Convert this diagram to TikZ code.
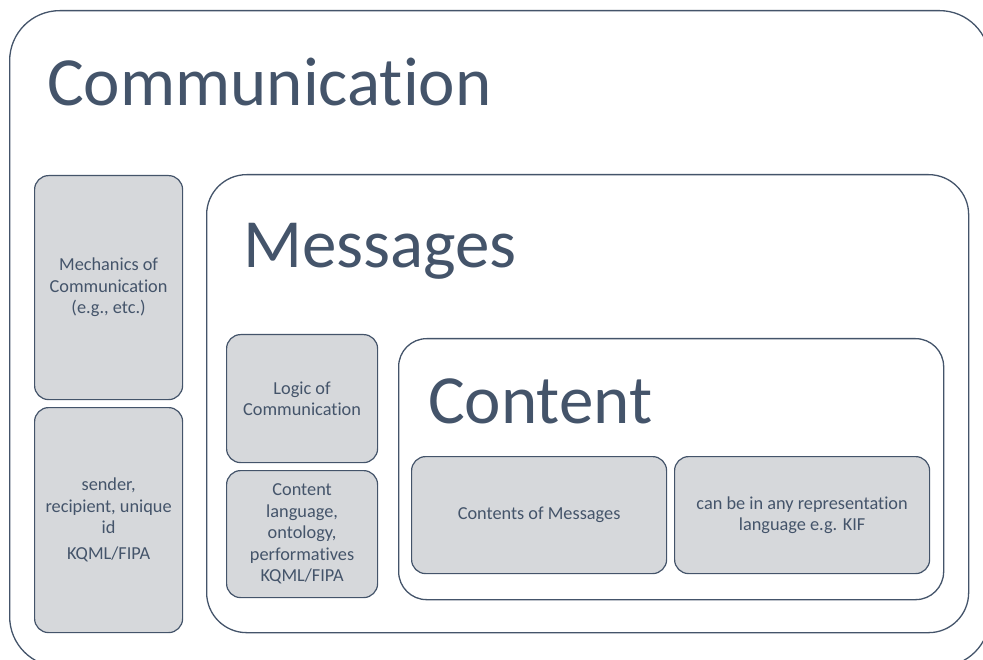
\documentclass[tikz,border=0pt]{standalone}
\usepackage{fontspec}
\setmainfont{Carlito}[Ligatures={NoCommon}]
\definecolor{slate}{HTML}{44546A}
\definecolor{boxgray}{RGB}{214,216,219}
\begin{document}
\begin{tikzpicture}[x=1pt,y=-1pt,
  container/.style={draw=slate, line width=1.3pt, fill=white, anchor=north west, inner sep=0pt},
  graybox/.style={draw=slate, line width=1.2pt, fill=boxgray, rounded corners=14pt, anchor=north west,
    inner sep=0pt, align=center, text=slate, font=\fontsize{18.3}{21.5}\selectfont},
  title/.style={anchor=base west, text=slate, inner sep=0pt, font=\fontsize{69}{80}\selectfont}]
\useasboundingbox (0,0) rectangle (983,660);
\clip (0,0) rectangle (983,660);
% outer container
\node[container, rounded corners=50pt, minimum width=980pt, minimum height=656pt] (comm) at (9,10) {};
\node[title] (commt) at (47,106) {Communication};
\node[graybox, minimum width=148pt, minimum height=224pt] (mech) at (34,175) {Mechanics of\\Communication\\(e.g., etc.)};
\node[graybox, minimum width=148pt, minimum height=225pt] (send) at (34,407) {sender,\\recipient, unique\\id\\[4pt]KQML/FIPA};
% messages container
\node[container, rounded corners=40pt, minimum width=762pt, minimum height=458pt] (msg) at (206,174) {};
\node[title] (msgt) at (243,268) {Messages};
\node[graybox, minimum width=151pt, minimum height=128pt] (logic) at (226,334) {Logic of\\Communication};
\node[graybox, minimum width=151pt, minimum height=127pt] (lang) at (226,470) {Content\\language,\\ontology,\\performatives\\KQML/FIPA};
% content container
\node[container, rounded corners=28pt, minimum width=545pt, minimum height=261pt] (cont) at (398,338) {};
\node[title] (contt) at (428,424) {Content};
\node[graybox, minimum width=255pt, minimum height=117pt] (com) at (411,456) {Contents of Messages};
\node[graybox, minimum width=255pt, minimum height=117pt] (any) at (674,456) {can be in any representation\\language e.g. KIF};
\end{tikzpicture}
\end{document}
